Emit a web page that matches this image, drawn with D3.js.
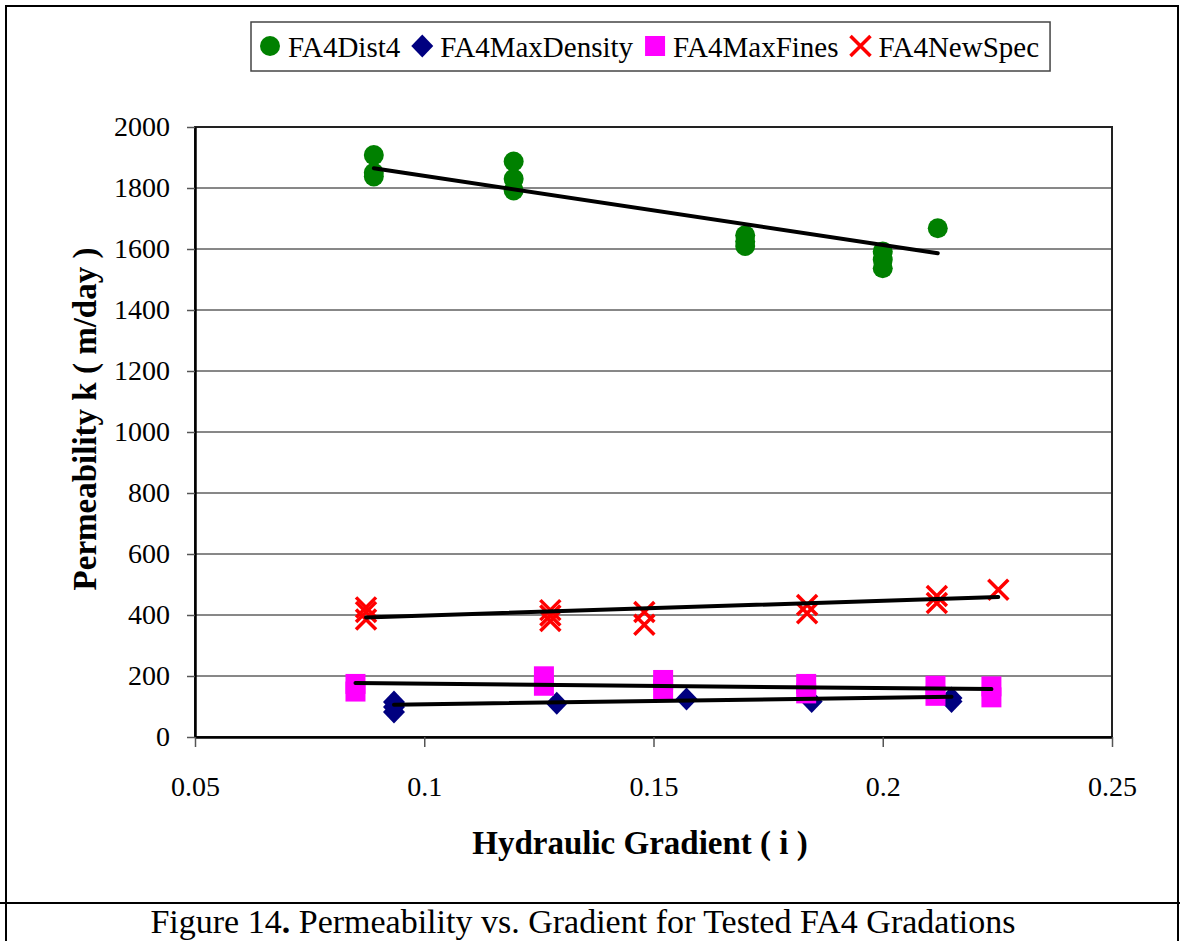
<!DOCTYPE html>
<html>
<head>
<meta charset="utf-8">
<script src="https://cdn.jsdelivr.net/npm/d3@7"></script>
<style>
  body { margin: 0; background: #fff; }
  svg { display: block; font-family: "Liberation Serif", "Times New Roman", serif; }
</style>
</head>
<body>
<div id="wrapper"></div>
<script>
// data
const seriesNames = ["FA4Dist4", "FA4MaxDensity", "FA4MaxFines", "FA4NewSpec"]
const seriesColors = ["#008000", "#000080", "#ff00ff", "#ff0000"]

const dist4X = [0.089, 0.089, 0.089, 0.1195, 0.1195, 0.1195, 0.17, 0.17, 0.17, 0.2, 0.2, 0.2, 0.212]
const dist4Y = [1908, 1850, 1838, 1887, 1830, 1792, 1645, 1625, 1610, 1592, 1565, 1537, 1668]

const maxDensityX = [0.0934, 0.0934, 0.0934, 0.1289, 0.1572, 0.1845, 0.215, 0.215]
const maxDensityY = [115, 98, 82, 111, 125, 116, 128, 116]

const maxFinesX = [0.085, 0.085, 0.1261, 0.1261, 0.1521, 0.1521, 0.1833, 0.1833, 0.2115, 0.2115, 0.2237, 0.2237]
const maxFinesY = [174, 149, 199, 168, 187, 157, 174, 143, 168, 135, 166, 130]

const newSpecX = [0.0873, 0.0873, 0.0873, 0.1275, 0.1275, 0.1275, 0.148, 0.148, 0.1835, 0.1835, 0.2118, 0.2118, 0.2252]
const newSpecY = [425, 410, 385, 416, 398, 380, 410, 368, 433, 406, 462, 439, 483]

// trend line end points (x start, x end, y start, y end)
const dist4Trend = [0.089, 0.212, 1865, 1586]
const maxDensityTrend = [0.0934, 0.215, 106, 132]
const maxFinesTrend = [0.085, 0.2237, 177, 157]
const newSpecTrend = [0.0873, 0.2252, 392, 459]

const xTicks = [0.05, 0.1, 0.15, 0.2, 0.25]
const yTicks = [0, 200, 400, 600, 800, 1000, 1200, 1400, 1600, 1800, 2000]

const xTitle = "Hydraulic Gradient ( i )"
const yTitle = "Permeability k ( m/day )"

function drawChart() {
  // 1. dimensions
  let dimensions = {
    width: 1180,
    height: 941,
    margin: { top: 127, right: 68, bottom: 204, left: 195 },
  }
  dimensions.boundedWidth = dimensions.width - dimensions.margin.left - dimensions.margin.right
  dimensions.boundedHeight = dimensions.height - dimensions.margin.top - dimensions.margin.bottom

  const zip = (xs, ys) => xs.map((x, i) => ({ x: x, y: ys[i] }))
  const series = [
    { name: seriesNames[0], color: seriesColors[0], shape: "circle", points: zip(dist4X, dist4Y), trend: dist4Trend },
    { name: seriesNames[1], color: seriesColors[1], shape: "diamond", points: zip(maxDensityX, maxDensityY), trend: maxDensityTrend },
    { name: seriesNames[2], color: seriesColors[2], shape: "square", points: zip(maxFinesX, maxFinesY), trend: maxFinesTrend },
    { name: seriesNames[3], color: seriesColors[3], shape: "x", points: zip(newSpecX, newSpecY), trend: newSpecTrend },
  ]

  // 2. canvas
  const wrapper = d3.select("#wrapper")
    .append("svg")
    .attr("width", dimensions.width)
    .attr("height", dimensions.height)

  // outer frame + caption divider
  wrapper.append("rect")
    .attr("x", 6).attr("y", 6)
    .attr("width", 1172).attr("height", 960)
    .attr("fill", "none").attr("stroke", "#000").attr("stroke-width", 2)
  wrapper.append("line")
    .attr("x1", 0).attr("x2", dimensions.width)
    .attr("y1", 903).attr("y2", 903)
    .attr("stroke", "#000").attr("stroke-width", 2)

  const bounds = wrapper.append("g")
    .attr("transform", `translate(${dimensions.margin.left}, ${dimensions.margin.top})`)

  // 3. scales
  const xScale = d3.scaleLinear()
    .domain([0.05, 0.25])
    .range([0, dimensions.boundedWidth])
  const yScale = d3.scaleLinear()
    .domain([0, 2000])
    .range([dimensions.boundedHeight, 0])

  // 4. grid + frame
  bounds.selectAll(".grid")
    .data(yTicks.filter(d => d > 0 && d < 2000))
    .enter().append("line")
      .attr("class", "grid")
      .attr("x1", 0).attr("x2", dimensions.boundedWidth)
      .attr("y1", d => yScale(d)).attr("y2", d => yScale(d))
      .attr("stroke", "#111").attr("stroke-width", 1)

  bounds.append("rect")
    .attr("width", dimensions.boundedWidth)
    .attr("height", dimensions.boundedHeight)
    .attr("fill", "none").attr("stroke", "#222").attr("stroke-width", 2)

  // 5. axes
  const yAxis = bounds.append("g")
    .call(d3.axisLeft(yScale).tickValues(yTicks).tickSize(8).tickSizeOuter(0).tickPadding(17).tickFormat(d3.format("d")))
  const xAxis = bounds.append("g")
    .attr("transform", `translate(0, ${dimensions.boundedHeight})`)
    .call(d3.axisBottom(xScale).tickValues(xTicks).tickSize(10).tickSizeOuter(0).tickPadding(29).tickFormat(d => String(d)))

  ;[xAxis, yAxis].forEach(ax => {
    ax.select(".domain").attr("stroke", "#000").attr("stroke-width", 2.5)
    ax.selectAll(".tick line").attr("stroke", "#555").attr("stroke-width", 1.5)
    ax.selectAll(".tick text")
      .attr("fill", "#000")
      .style("font-family", "'Liberation Serif', 'Times New Roman', serif")
      .style("font-size", "28px")
  })

  // 6. trend lines
  const line = d3.line().x(d => xScale(d[0])).y(d => yScale(d[1]))
  bounds.selectAll(".trend")
    .data(series)
    .enter().append("path")
      .attr("class", "trend")
      .attr("d", s => line([[s.trend[0], s.trend[2]], [s.trend[1], s.trend[3]]]))
      .attr("fill", "none").attr("stroke", "#000")
      .attr("stroke-width", 4).attr("stroke-linecap", "round")

  // 7. markers
  const markerPath = shape => {
    if (shape === "circle") return d3.symbol(d3.symbolCircle, 314)()
    if (shape === "square") return d3.symbol(d3.symbolSquare, 400)()
    if (shape === "diamond") {
      const p = d3.path()
      p.moveTo(0, -11.5); p.lineTo(11, 0); p.lineTo(0, 11.5); p.lineTo(-11, 0); p.closePath()
      return p.toString()
    }
    const p = d3.path()
    p.moveTo(-10, -10); p.lineTo(10, 10); p.moveTo(10, -10); p.lineTo(-10, 10)
    return p.toString()
  }
  const drawMarker = (sel, s) => {
    sel.attr("d", markerPath(s.shape))
    if (s.shape === "x") {
      sel.attr("fill", "none").attr("stroke", s.color).attr("stroke-width", 3.5)
    } else {
      sel.attr("fill", s.color).attr("stroke", "none")
    }
  }

  const marks = bounds.append("g")
  series.forEach(s => {
    marks.append("g").selectAll("path")
      .data(s.points)
      .enter().append("path")
        .attr("transform", d => `translate(${xScale(d.x)}, ${yScale(d.y)})`)
        .call(sel => drawMarker(sel, s))
  })
  bounds.selectAll(".trend").raise()

  // 8. titles
  wrapper.append("text")
    .attr("x", 640).attr("y", 854)
    .attr("text-anchor", "middle")
    .style("font-size", "33px").style("font-weight", "bold")
    .text(xTitle)
  wrapper.append("text")
    .attr("transform", "translate(96, 419) rotate(-90)")
    .attr("text-anchor", "middle")
    .style("font-size", "33px").style("font-weight", "bold")
    .text(yTitle)

  // 9. legend
  const legend = wrapper.append("g")
  const legendBox = legend.append("rect")
    .attr("x", 251).attr("y", 22).attr("height", 49)
    .attr("fill", "#fff").attr("stroke", "#444").attr("stroke-width", 1.5)
  let cursor = 259
  series.forEach(s => {
    legend.append("path")
      .attr("transform", `translate(${cursor + 11}, 46)`)
      .call(sel => drawMarker(sel, s))
    const t = legend.append("text")
      .attr("x", cursor + 29).attr("y", 57)
      .style("font-size", "29px")
      .text(s.name)
    cursor += 29 + t.node().getComputedTextLength() + 11
  })
  legendBox.attr("width", cursor - 251)

  // 10. caption
  const caption = wrapper.append("text")
    .attr("x", 583).attr("y", 933)
    .attr("text-anchor", "middle")
    .style("font-size", "34px")
  caption.append("tspan").text("Figure 14")
  caption.append("tspan").style("font-weight", "bold").text(".")
  caption.append("tspan").text(" Permeability vs. Gradient for Tested FA4 Gradations")
}
drawChart()
</script>
</body>
</html>
